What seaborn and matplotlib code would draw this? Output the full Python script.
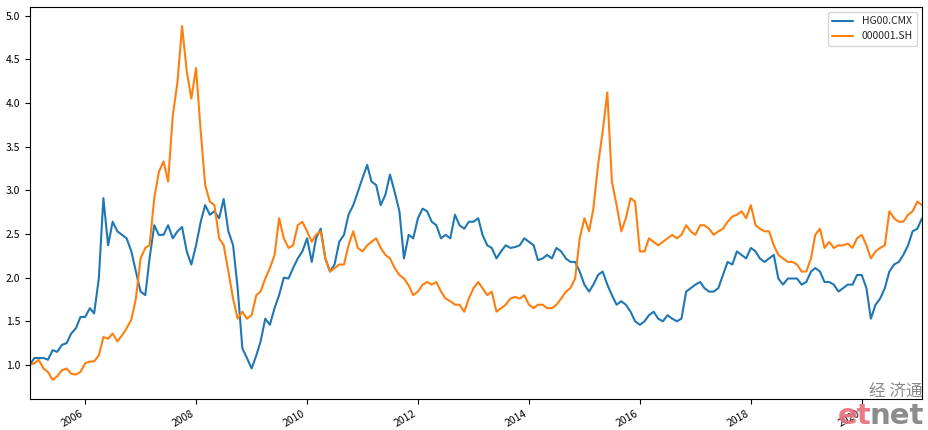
import matplotlib
matplotlib.use('Agg')
import matplotlib.pyplot as plt
import matplotlib.dates as mdates
import pandas as pd
import seaborn as sns

# monthly readings, Jan 2005 .. Feb 2021, both series rebased to 1.0
months = pd.date_range('2005-01-01', periods=194, freq='MS')

copper = [
    1.00, 1.08, 1.08, 1.08, 1.06, 1.17, 1.15, 1.23, 1.25, 1.36, 1.42, 1.55,
    1.55, 1.65, 1.59, 1.99, 2.91, 2.37, 2.64, 2.53, 2.49, 2.45, 2.30, 2.07,
    1.84, 1.80, 2.22, 2.60, 2.49, 2.49, 2.60, 2.45, 2.53, 2.58, 2.30, 2.15,
    2.37, 2.64, 2.83, 2.72, 2.76, 2.68, 2.90, 2.53, 2.37, 1.88, 1.19, 1.08,
    0.96, 1.11, 1.27, 1.53, 1.46, 1.65, 1.80, 2.00, 1.99, 2.11, 2.22, 2.30,
    2.45, 2.18, 2.45, 2.56, 2.22, 2.07, 2.15, 2.41, 2.49, 2.72, 2.83, 2.98,
    3.14, 3.29, 3.10, 3.06, 2.83, 2.95, 3.18, 2.98, 2.76, 2.22, 2.49, 2.45,
    2.68, 2.79, 2.76, 2.64, 2.60, 2.45, 2.49, 2.45, 2.72, 2.60, 2.56, 2.64,
    2.64, 2.68, 2.49, 2.37, 2.34, 2.22, 2.30, 2.37, 2.34, 2.35, 2.37, 2.45,
    2.41, 2.37, 2.20, 2.22, 2.26, 2.22, 2.34, 2.30, 2.22, 2.18, 2.18, 2.07,
    1.92, 1.84, 1.92, 2.03, 2.07, 1.92, 1.80, 1.69, 1.73, 1.69, 1.61, 1.50,
    1.46, 1.50, 1.57, 1.61, 1.53, 1.50, 1.57, 1.53, 1.50, 1.53, 1.84, 1.88,
    1.92, 1.95, 1.88, 1.84, 1.84, 1.88, 2.03, 2.18, 2.15, 2.30, 2.26, 2.22,
    2.34, 2.30, 2.22, 2.18, 2.22, 2.26, 1.99, 1.92, 1.99, 1.99, 1.99, 1.92,
    1.95, 2.07, 2.11, 2.07, 1.95, 1.95, 1.92, 1.84, 1.88, 1.92, 1.92, 2.03,
    2.03, 1.88, 1.53, 1.69, 1.76, 1.88, 2.07, 2.15, 2.18, 2.26, 2.37, 2.53,
    2.56, 2.68,
]

shanghai = [
    1.00, 1.02, 1.06, 0.96, 0.92, 0.83, 0.87, 0.94, 0.96, 0.90, 0.89, 0.92,
    1.02, 1.04, 1.04, 1.11, 1.32, 1.30, 1.36, 1.27, 1.34, 1.42, 1.52, 1.76,
    2.22, 2.34, 2.37, 2.91, 3.21, 3.33, 3.10, 3.86, 4.24, 4.88, 4.36, 4.05,
    4.40, 3.67, 3.06, 2.87, 2.83, 2.45, 2.37, 2.07, 1.76, 1.53, 1.61, 1.53,
    1.57, 1.80, 1.84, 1.99, 2.11, 2.26, 2.68, 2.45, 2.34, 2.37, 2.60, 2.64,
    2.53, 2.41, 2.49, 2.53, 2.22, 2.07, 2.11, 2.15, 2.15, 2.37, 2.53, 2.34,
    2.30, 2.37, 2.41, 2.45, 2.34, 2.26, 2.22, 2.11, 2.03, 1.99, 1.91, 1.80,
    1.84, 1.92, 1.95, 1.92, 1.95, 1.84, 1.76, 1.73, 1.69, 1.69, 1.61, 1.76,
    1.88, 1.95, 1.88, 1.80, 1.84, 1.61, 1.65, 1.69, 1.76, 1.78, 1.76, 1.80,
    1.69, 1.65, 1.69, 1.69, 1.65, 1.65, 1.69, 1.76, 1.84, 1.88, 1.99, 2.45,
    2.68, 2.53, 2.79, 3.29, 3.67, 4.12, 3.10, 2.83, 2.53, 2.68, 2.91, 2.87,
    2.30, 2.30, 2.45, 2.41, 2.37, 2.41, 2.45, 2.49, 2.45, 2.49, 2.60, 2.53,
    2.49, 2.60, 2.60, 2.56, 2.49, 2.53, 2.56, 2.64, 2.70, 2.72, 2.76, 2.68,
    2.83, 2.60, 2.56, 2.53, 2.53, 2.37, 2.26, 2.22, 2.18, 2.18, 2.15, 2.07,
    2.07, 2.22, 2.49, 2.56, 2.34, 2.41, 2.34, 2.37, 2.37, 2.39, 2.34, 2.45,
    2.49, 2.37, 2.22, 2.30, 2.34, 2.37, 2.76, 2.68, 2.64, 2.64, 2.72, 2.76,
    2.87, 2.83,
]

names = ['HG00.CMX', '000001.SH']
colors = ['#1f77b4', '#ff7f0e']

df = pd.DataFrame({'date': months, names[0]: copper, names[1]: shanghai})
long = df.melt(id_vars='date', var_name='series', value_name='value')

sns.set_style('ticks')
plt.rcParams['font.family'] = ['Noto Sans CJK SC', 'DejaVu Sans']

fig = plt.figure(figsize=(9.29, 4.30), dpi=100)
ax = fig.add_axes([0.032, 0.072, 0.9605, 0.912])
sns.lineplot(data=long, x='date', y='value', hue='series', hue_order=names,
             palette=colors, linewidth=1.5, ax=ax)

ax.set_xlim(months[0], months[-1])
ax.set_ylim(0.61, 5.10)
ax.set_xlabel('')
ax.set_ylabel('')
ax.xaxis.set_major_locator(mdates.YearLocator(2))
ax.xaxis.set_major_formatter(mdates.DateFormatter('%Y'))
ax.tick_params(labelsize=7.5, colors='black', length=3.5)
for lab in ax.get_xticklabels():
    lab.set_rotation(30)
    lab.set_ha('right')
for s in ax.spines.values():
    s.set_color('black')
    s.set_linewidth(0.8)

handles, labels = ax.get_legend_handles_labels()
ax.legend(handles, labels, loc='upper right', fontsize=7.5, frameon=True)

# watermark
fig.text(0.993, 0.07, '经 济通', ha='right', va='bottom', fontsize=12,
         color='#8a8a8a', family=['Noto Sans CJK SC', 'DejaVu Sans'])
t_net = fig.text(0.995, 0.0, 'net', ha='right', va='bottom', fontsize=21,
                 fontweight='bold', color='#8c8c8c', family='DejaVu Sans')
fig.canvas.draw()
bb = t_net.get_window_extent()
x0 = bb.x0 / fig.bbox.width
fig.text(x0 + 0.001, 0.0, 'et', ha='right', va='bottom', fontsize=21,
         fontweight='bold', color='#e66d79', alpha=0.9, family='DejaVu Sans')

fig.savefig('out.png', dpi=100)
